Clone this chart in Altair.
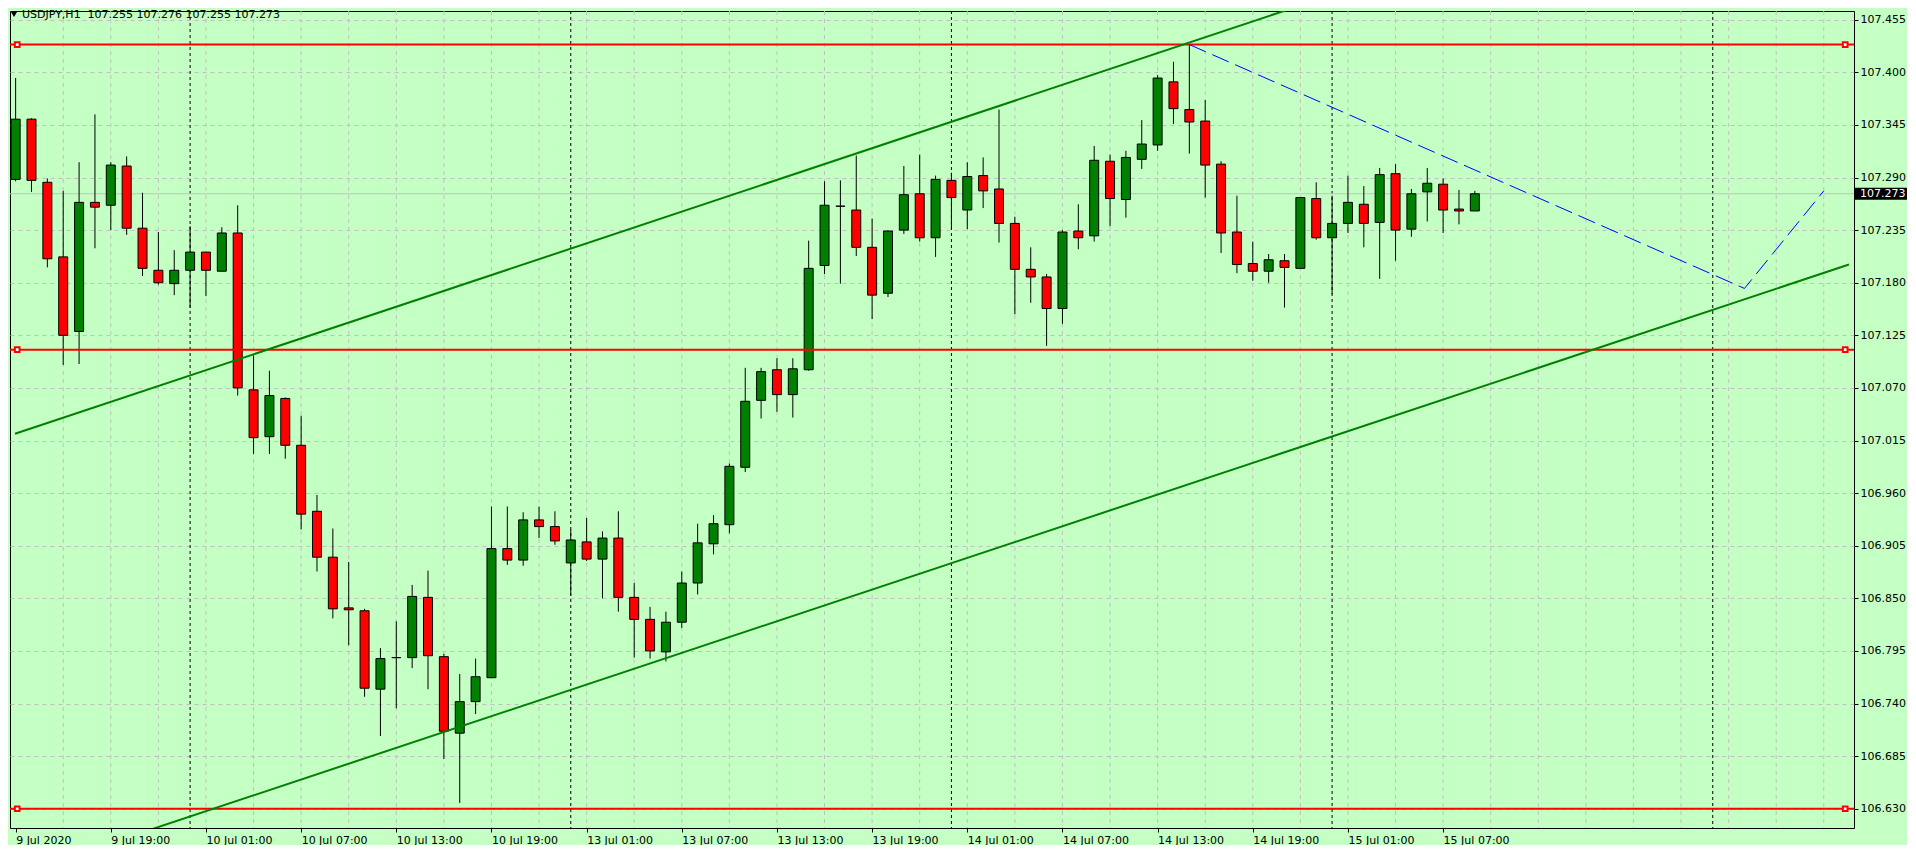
import altair as alt
import pandas as pd

# ---------------- data ----------------
opens = [107.288, 107.351, 107.285, 107.207, 107.129, 107.264, 107.261, 107.302, 107.237, 107.193,
         107.179, 107.193, 107.212, 107.192, 107.232, 107.068, 107.019, 107.059, 107.010, 106.941,
         106.893, 106.840, 106.837, 106.755, 106.788, 106.788, 106.851, 106.789, 106.709, 106.742,
         106.767, 106.902, 106.890, 106.932, 106.925, 106.887, 106.909, 106.891, 106.913, 106.851,
         106.828, 106.794, 106.825, 106.866, 106.907, 106.927, 106.987, 107.057, 107.089, 107.063,
         107.089, 107.198, 107.260, 107.256, 107.217, 107.169, 107.235, 107.273, 107.227, 107.287,
         107.256, 107.292, 107.278, 107.242, 107.194, 107.186, 107.153, 107.234, 107.229, 107.307,
         107.267, 107.309, 107.324, 107.390, 107.361, 107.349, 107.304, 107.233, 107.200, 107.192,
         107.203, 107.195, 107.268, 107.227, 107.242, 107.262, 107.243, 107.294, 107.236, 107.275,
         107.283, 107.257, 107.255]
highs = [107.394, 107.352, 107.289, 107.276, 107.306, 107.356, 107.306, 107.312, 107.274, 107.233,
         107.214, 107.239, 107.212, 107.238, 107.261, 107.104, 107.088, 107.060, 107.041, 106.958,
         106.923, 106.888, 106.839, 106.798, 106.826, 106.864, 106.879, 106.792, 106.771, 106.787,
         106.946, 106.946, 106.940, 106.946, 106.941, 106.922, 106.934, 106.920, 106.941, 106.866,
         106.841, 106.836, 106.878, 106.928, 106.937, 106.991, 107.091, 107.091, 107.101, 107.101,
         107.224, 107.286, 107.287, 107.313, 107.247, 107.235, 107.302, 107.314, 107.292, 107.295,
         107.306, 107.311, 107.361, 107.249, 107.217, 107.189, 107.235, 107.262, 107.323, 107.314,
         107.318, 107.350, 107.397, 107.411, 107.429, 107.371, 107.307, 107.271, 107.223, 107.210,
         107.210, 107.269, 107.285, 107.271, 107.292, 107.281, 107.300, 107.304, 107.278, 107.300,
         107.289, 107.277, 107.276]
lows = [107.286, 107.275, 107.196, 107.094, 107.095, 107.216, 107.235, 107.230, 107.187, 107.178,
        107.167, 107.154, 107.166, 107.192, 107.062, 107.001, 107.001, 106.996, 106.922, 106.878,
        106.829, 106.801, 106.747, 106.706, 106.735, 106.777, 106.755, 106.682, 106.636, 106.729,
        106.767, 106.885, 106.884, 106.913, 106.906, 106.853, 106.889, 106.850, 106.836, 106.788,
        106.787, 106.784, 106.819, 106.854, 106.896, 106.918, 106.982, 107.038, 107.045, 107.039,
        107.088, 107.189, 107.179, 107.208, 107.142, 107.165, 107.231, 107.223, 107.207, 107.236,
        107.236, 107.258, 107.222, 107.147, 107.159, 107.114, 107.137, 107.215, 107.223, 107.239,
        107.248, 107.299, 107.318, 107.346, 107.315, 107.269, 107.211, 107.190, 107.182, 107.180,
        107.154, 107.195, 107.225, 107.168, 107.232, 107.217, 107.184, 107.203, 107.228, 107.244,
        107.232, 107.241, 107.255]
closes = [107.351, 107.287, 107.205, 107.125, 107.264, 107.259, 107.303, 107.237, 107.195, 107.180,
          107.193, 107.212, 107.193, 107.232, 107.070, 107.018, 107.062, 107.010, 106.938, 106.893,
          106.839, 106.838, 106.756, 106.787, 106.788, 106.852, 106.790, 106.711, 106.742, 106.768,
          106.902, 106.890, 106.932, 106.925, 106.910, 106.911, 106.891, 106.913, 106.851, 106.828,
          106.795, 106.825, 106.866, 106.908, 106.928, 106.988, 107.056, 107.087, 107.063, 107.090,
          107.195, 107.261, 107.260, 107.217, 107.167, 107.234, 107.272, 107.227, 107.288, 107.269,
          107.291, 107.276, 107.242, 107.194, 107.186, 107.153, 107.233, 107.227, 107.308, 107.268,
          107.311, 107.325, 107.394, 107.362, 107.348, 107.303, 107.232, 107.199, 107.192, 107.204,
          107.196, 107.269, 107.227, 107.242, 107.264, 107.242, 107.293, 107.235, 107.273, 107.284,
          107.256, 107.255, 107.273]

x_tick_bars = [0, 6, 12, 18, 24, 30, 36, 42, 48, 54, 60, 66, 72, 78, 84, 90]
x_tick_labels = ["9 Jul 2020", "9 Jul 19:00", "10 Jul 01:00", "10 Jul 07:00", "10 Jul 13:00",
                 "10 Jul 19:00", "13 Jul 01:00", "13 Jul 07:00", "13 Jul 13:00", "13 Jul 19:00",
                 "14 Jul 01:00", "14 Jul 07:00", "14 Jul 13:00", "14 Jul 19:00", "15 Jul 01:00",
                 "15 Jul 07:00"]
y_ticks = [106.630, 106.685, 106.740, 106.795, 106.850, 106.905, 106.960, 107.015, 107.070,
           107.125, 107.180, 107.235, 107.290, 107.345, 107.400, 107.455]
day_separator_bars = [11, 35, 59, 83, 107]

hline_prices = [107.429, 107.110, 106.630]
upper_channel_bars = [-0.04, 115.59]
upper_channel_prices = [107.022, 107.661]
lower_channel_bars = [-0.04, 115.59]
lower_channel_prices = [106.561, 107.199]
blue_path_bars = [74, 109, 114]
blue_path_prices = [107.429, 107.174, 107.276]
current_price = 107.273
title_text = "USDJPY,H1 \u00a0107.255 107.276 107.255 107.273"

# ---------------- layout / style ----------------
BG = "#c4ffc4"
FONT = "DejaVu Sans"
X_DOMAIN = [-0.04, 115.59]
Y_DOMAIN = [106.60985, 107.46409]
W, H = 1844, 817

xs = alt.Scale(domain=X_DOMAIN, nice=False, zero=False)
ys = alt.Scale(domain=Y_DOMAIN, nice=False, zero=False)

label_list = ",".join("'%s'" % s for s in x_tick_labels)
x_axis = alt.Axis(values=x_tick_bars, labelExpr="[%s][round(datum.value / 6)]" % label_list,
                  labelAlign="left", labelBaseline="top", labelPadding=2, tickSize=4,
                  tickColor="black", labelColor="black", labelFont=FONT, labelFontSize=11,
                  domain=False, grid=False, title=None, labelOverlap=False, labelFlush=False,
                  labelBound=False)
y_axis = alt.Axis(orient="right", values=y_ticks, format=".3f", tickSize=4, tickColor="black",
                  labelColor="black", labelFont=FONT, labelFontSize=11, labelPadding=2,
                  domain=False, grid=True, gridColor="#c0c0c0", gridDash=[4, 4], title=None,
                  labelOverlap=False, labelFlush=False)


def X(f):
    return alt.X(f, type="quantitative", scale=xs, axis=x_axis)


def Y(f):
    return alt.Y(f, type="quantitative", scale=ys, axis=y_axis)


n = len(opens)
candles = pd.DataFrame({
    "i": list(range(n)), "open": opens, "high": highs, "low": lows, "close": closes,
})
candles["dir"] = ["up" if c >= o else "down" for o, c in zip(opens, closes)]

vgrid = pd.DataFrame({"gx": list(range(3, 115, 3))})
days = pd.DataFrame({"dx": day_separator_bars})
hlines = pd.DataFrame({"p": hline_prices})
markers = pd.DataFrame({
    "mx": [0.1, 115.35] * len(hline_prices),
    "mp": [p for p in hline_prices for _ in range(2)],
})
channel = pd.DataFrame({
    "bx": upper_channel_bars + lower_channel_bars,
    "bp": upper_channel_prices + lower_channel_prices,
    "line": ["upper"] * 2 + ["lower"] * 2,
    "k": [0, 1, 0, 1],
})
blue = pd.DataFrame({"bx": blue_path_bars, "bp": blue_path_prices, "k": list(range(len(blue_path_bars)))})
cur = pd.DataFrame({"price": [current_price], "hi": [current_price + 0.0063],
                    "lo": [current_price - 0.0063], "label": ["%.3f" % current_price]})
title_df = pd.DataFrame({"t": [title_text]})

grid_layer = alt.Chart(vgrid).mark_rule(color="#c0c0c0", strokeDash=[4, 4], strokeWidth=1).encode(x=X("gx"))
day_layer = alt.Chart(days).mark_rule(color="black", strokeDash=[3, 3], strokeWidth=1).encode(x=X("dx"))
cur_line = alt.Chart(cur).mark_rule(color="#c0c0c0", strokeWidth=1).encode(y=Y("price"))
wicks = alt.Chart(candles).mark_rule(color="black", strokeWidth=1, clip=True).encode(
    x=X("i"), y=Y("low"), y2="high")
bodies = alt.Chart(candles).mark_bar(size=9, stroke="black", strokeWidth=1, clip=True).encode(
    x=X("i"), y=Y("open"), y2="close",
    color=alt.Color("dir:N", scale=alt.Scale(domain=["up", "down"], range=["#008000", "#ff0000"]),
                    legend=None))
red_lines = alt.Chart(hlines).mark_rule(color="#ff0000", strokeWidth=2).encode(y=Y("p"))
red_marks = alt.Chart(markers).mark_point(shape="square", filled=True, fill="white", stroke="#ff0000",
                                          strokeWidth=2, size=22, opacity=1).encode(x=X("mx"), y=Y("mp"))
chan = alt.Chart(channel).mark_line(color="#008000", strokeWidth=2, clip=True).encode(
    x=X("bx"), y=Y("bp"), detail="line:N", order="k:Q")
blue_line = alt.Chart(blue).mark_line(color="#0000ff", strokeWidth=1, strokeDash=[18, 7], clip=True).encode(
    x=X("bx"), y=Y("bp"), order="k:Q")
title_tri = alt.Chart(title_df).mark_point(shape="triangle-down", filled=True, color="black", size=36,
                                           opacity=1).encode(x=alt.value(4), y=alt.value(3.5))
title_txt = alt.Chart(title_df).mark_text(align="left", baseline="middle", font=FONT, fontSize=11,
                                          color="black").encode(x=alt.value(12), y=alt.value(4), text="t:N")
price_box = alt.Chart(cur).mark_rect(color="black").encode(
    x=alt.value(1844.5), x2=alt.value(1897), y=Y("hi"), y2="lo")
price_txt = alt.Chart(cur).mark_text(align="left", baseline="middle", font=FONT, fontSize=11,
                                     color="white").encode(x=alt.value(1850), y=Y("price"), text="label:N")

chart = alt.layer(
    grid_layer, day_layer, cur_line, wicks, bodies, red_lines, red_marks, chan, blue_line,
    title_tri, title_txt, price_box, price_txt
).properties(
    width=W, height=H, background=BG,
    padding={"left": 1, "top": 1, "right": 0, "bottom": 0},
).configure_view(
    stroke="black", strokeWidth=1, fill=BG
)

chart.save("out.html", embed_options={"renderer": "svg", "actions": False})
